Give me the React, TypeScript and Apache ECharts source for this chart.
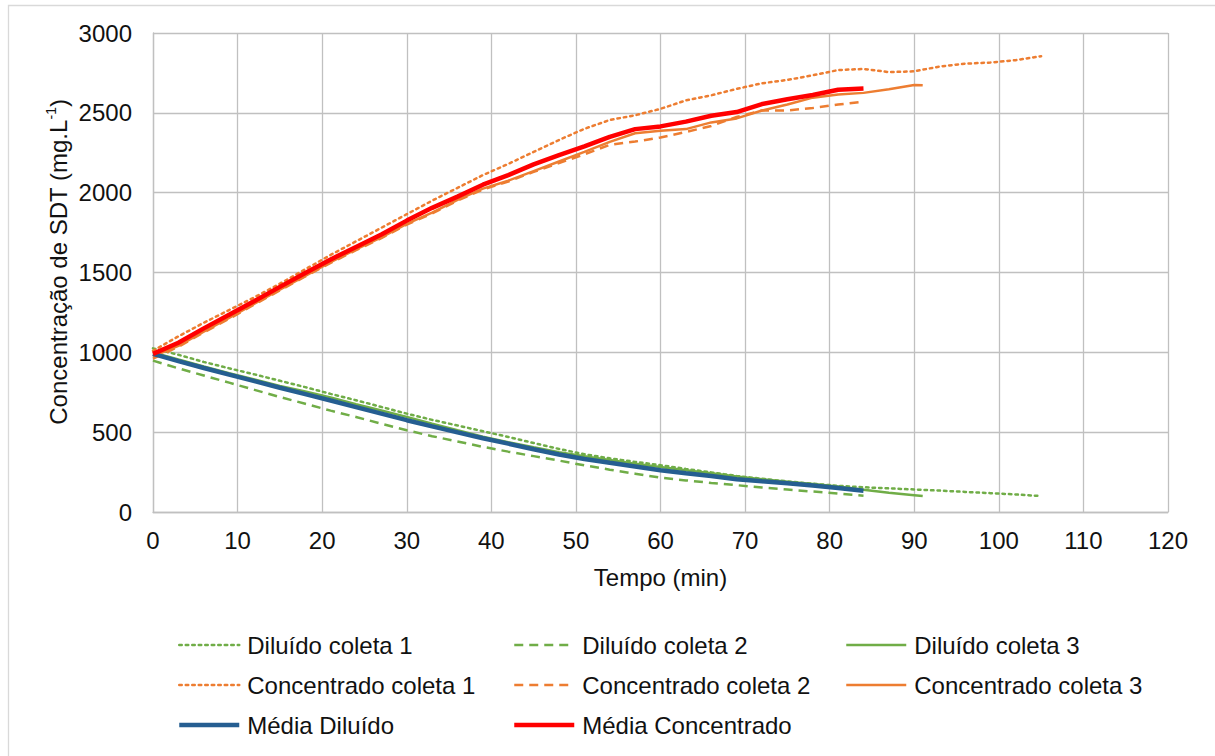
import React, { useEffect, useRef } from "react";
import * as echarts from "echarts";

const FONT = "'Liberation Sans', Arial, sans-serif";
const FS = 24;

const xTicks = [0, 10, 20, 30, 40, 50, 60, 70, 80, 90, 100, 110, 120];
const yTicks = [0, 500, 1000, 1500, 2000, 2500, 3000];

const tempo84 = [0, 3, 6, 9, 12, 15, 18, 21, 24, 27, 30, 33, 36, 39, 42, 45, 48, 51, 54, 57, 60, 63, 66, 69, 72, 75, 78, 81, 84];
const tempo91 = [0, 3, 6, 9, 12, 15, 18, 21, 24, 27, 30, 33, 36, 39, 42, 45, 48, 51, 54, 57, 60, 63, 66, 69, 72, 75, 78, 81, 84, 87, 90, 91];
const tempo105 = [0, 3, 6, 9, 12, 15, 18, 21, 24, 27, 30, 33, 36, 39, 42, 45, 48, 51, 54, 57, 60, 63, 66, 69, 72, 75, 78, 81, 84, 87, 90, 93, 96, 99, 102, 105];

const diluidoColeta1 = [1025, 985, 940, 900, 862, 822, 782, 740, 700, 658, 616, 577, 542, 506, 470, 432, 395, 362, 336, 314, 293, 270, 248, 226, 208, 192, 177, 164, 155, 148, 141, 134, 126, 118, 110, 100];
const diluidoColeta2 = [948, 900, 855, 810, 765, 720, 678, 635, 595, 553, 512, 475, 442, 408, 378, 350, 322, 292, 265, 240, 215, 198, 182, 168, 153, 141, 128, 116, 102];
const diluidoColeta3 = [1000, 955, 912, 870, 830, 790, 755, 718, 675, 636, 596, 553, 512, 472, 437, 405, 375, 350, 325, 302, 282, 262, 242, 222, 205, 190, 176, 160, 140, 120, 105, 100];
const concentradoColeta1 = [1010, 1100, 1185, 1265, 1345, 1430, 1520, 1610, 1695, 1780, 1865, 1950, 2030, 2110, 2180, 2255, 2330, 2400, 2455, 2485, 2525, 2578, 2610, 2650, 2685, 2706, 2735, 2768, 2775, 2755, 2760, 2790, 2808, 2815, 2830, 2855];
const concentradoColeta2 = [960, 1035, 1125, 1210, 1300, 1388, 1475, 1560, 1640, 1715, 1800, 1870, 1950, 2020, 2070, 2130, 2185, 2240, 2300, 2320, 2345, 2380, 2418, 2474, 2515, 2515, 2530, 2552, 2570];
const concentradoColeta3 = [975, 1040, 1130, 1215, 1305, 1392, 1478, 1565, 1645, 1720, 1805, 1875, 1955, 2025, 2075, 2135, 2195, 2255, 2318, 2372, 2388, 2398, 2440, 2465, 2515, 2552, 2595, 2615, 2625, 2648, 2674, 2672];
const mediaDiluido = [990, 945, 902, 860, 820, 778, 738, 698, 657, 616, 575, 536, 499, 462, 428, 393, 360, 332, 308, 285, 262, 243, 226, 205, 192, 180, 166, 150, 133];
const mediaConcentrado = [990, 1060, 1150, 1235, 1322, 1410, 1497, 1582, 1660, 1738, 1825, 1905, 1975, 2050, 2110, 2177, 2235, 2290, 2350, 2398, 2415, 2445, 2482, 2505, 2555, 2585, 2612, 2645, 2652];

const GREEN = "#70AD47";
const ORANGE = "#ED7D31";
const BLUE = "#255E91";
const RED = "#FF0000";
const DOT = [2.5, 4];
const DASH = [9, 6];

const zip = (xs: number[], ys: number[]) => xs.map((x, i) => [x, ys[i]]);

export default function App() {
  const ref = useRef<HTMLDivElement>(null);
  useEffect(() => {
    if (!ref.current) return;
    const chart = echarts.init(ref.current, null, { renderer: "svg" });
    const mk = (name: string, xs: number[], ys: number[], color: string, width: number, type: any) => ({
      name,
      type: "line",
      data: zip(xs, ys),
      showSymbol: false,
      symbol: "none",
      smooth: false,
      lineStyle: { color, width, type, cap: type === DOT ? "round" : "butt" },
      itemStyle: { color },
      z: 2,
    });
    const legendBase = {
      orient: "vertical",
      top: 633,
      padding: 0,
      itemWidth: 60,
      itemHeight: 14,
      itemGap: 16,
      selectedMode: false,
      itemStyle: { opacity: 0 },
      lineStyle: { width: "inherit" },
      textStyle: { fontFamily: FONT, fontSize: FS, color: "#111", lineHeight: 24, padding: [0, 0, 0, 3] },
    };
    chart.setOption({
      animation: false,
      backgroundColor: "#fff",
      grid: { left: 153, right: 47, top: 33, bottom: 244 },
      xAxis: {
        type: "value",
        min: xTicks[0],
        max: xTicks[xTicks.length - 1],
        interval: 10,
        name: "Tempo (min)",
        nameLocation: "middle",
        nameGap: 53,
        nameTextStyle: { fontFamily: FONT, fontSize: FS, color: "#111" },
        axisLine: { show: true, lineStyle: { color: "#C0C0C0", width: 1.3 } },
        axisTick: { show: false },
        axisLabel: { fontFamily: FONT, fontSize: FS, color: "#111", margin: 16, formatter: (v: number) => String(v) },
        splitLine: { show: true, lineStyle: { color: "#C0C0C0", width: 1.3 } },
      },
      yAxis: {
        type: "value",
        min: yTicks[0],
        max: yTicks[yTicks.length - 1],
        interval: 500,
        axisLine: { show: true, lineStyle: { color: "#C0C0C0", width: 1.3 } },
        axisTick: { show: false },
        axisLabel: { fontFamily: FONT, fontSize: FS, color: "#111", margin: 21, formatter: (v: number) => String(v) },
        splitLine: { show: true, lineStyle: { color: "#C0C0C0", width: 1.3 } },
      },
      legend: [
        { ...legendBase, left: 177, data: ["Diluído coleta 1", "Concentrado coleta 1", "Média Diluído"] },
        { ...legendBase, left: 512, data: ["Diluído coleta 2", "Concentrado coleta 2", "Média Concentrado"] },
        { ...legendBase, left: 845, data: ["Diluído coleta 3", "Concentrado coleta 3"] },
      ],
      graphic: [
        {
          type: "rect",
          shape: { x: 8.5, y: 5.5, width: 1300, height: 900 },
          style: { fill: "none", stroke: "#D9D9D9", lineWidth: 1.3 },
          silent: true,
          z: -10,
        },
        {
          type: "text",
          x: 58,
          y: 262,
          rotation: Math.PI / 2,
          style: {
            text: "{a|Concentração de SDT (mg.L}{s|-1}{a|)}",
            align: "center",
            verticalAlign: "middle",
            rich: {
              a: { fontFamily: FONT, fontSize: FS, fill: "#111", lineHeight: 28 },
              s: { fontFamily: FONT, fontSize: 14, fill: "#111", verticalAlign: "top", lineHeight: 18 },
            },
          },
        },
      ],
      series: [
        mk("Diluído coleta 1", tempo105, diluidoColeta1, GREEN, 2.5, DOT),
        mk("Diluído coleta 2", tempo84, diluidoColeta2, GREEN, 2.5, DASH),
        mk("Diluído coleta 3", tempo91, diluidoColeta3, GREEN, 2.5, "solid"),
        mk("Concentrado coleta 1", tempo105, concentradoColeta1, ORANGE, 2.5, DOT),
        mk("Concentrado coleta 2", tempo84, concentradoColeta2, ORANGE, 2.5, DASH),
        mk("Concentrado coleta 3", tempo91, concentradoColeta3, ORANGE, 2.5, "solid"),
        mk("Média Diluído", tempo84, mediaDiluido, BLUE, 4.5, "solid"),
        mk("Média Concentrado", tempo84, mediaConcentrado, RED, 4.5, "solid"),
      ],
    });
    return () => chart.dispose();
  }, []);
  return <div ref={ref} style={{ position: "fixed", left: 0, top: 0, width: 1215, height: 756 }} />;
}
